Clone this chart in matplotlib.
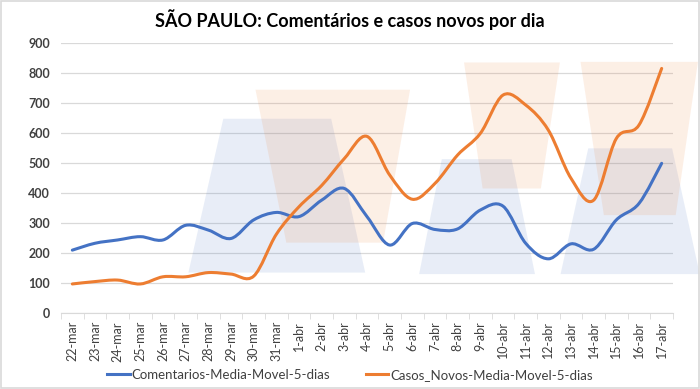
import numpy as np
import matplotlib
matplotlib.use('Agg')
from matplotlib import pyplot as plt
from matplotlib.path import Path
from matplotlib.patches import PathPatch, Polygon, Rectangle
from matplotlib.lines import Line2D

dias = ['22-mar', '23-mar', '24-mar', '25-mar', '26-mar', '27-mar', '28-mar', '29-mar',
        '30-mar', '31-mar', '1-abr', '2-abr', '3-abr', '4-abr', '5-abr', '6-abr', '7-abr',
        '8-abr', '9-abr', '10-abr', '11-abr', '12-abr', '13-abr', '14-abr', '15-abr',
        '16-abr', '17-abr']

comentarios = [209, 232, 243, 254, 243, 292, 276, 248, 310, 335, 321, 376, 415,
               321, 226, 298, 278, 280, 343, 356, 232, 180, 230, 212, 310, 365, 499]

casos = [96, 104, 109, 96, 120, 120, 134, 129, 122, 262, 354, 425, 515,
         589, 460, 379, 432, 527, 599, 727, 694, 610, 449, 376, 582, 627, 816]

azul = '#4472C4'
laranja = '#ED7D31'


def smooth_path(xs, ys):
    # excel style smoothed line -> cubic bezier segments (catmull-rom)
    pts = np.column_stack([xs, ys]).astype(float)
    n = len(pts)
    verts = [pts[0]]
    codes = [Path.MOVETO]
    for i in range(n - 1):
        p0 = pts[i - 1] if i > 0 else pts[i]
        p1 = pts[i]
        p2 = pts[i + 1]
        p3 = pts[i + 2] if i + 2 < n else pts[i + 1]
        c1 = p1 + (p2 - p0) / 6.0
        c2 = p2 - (p3 - p1) / 6.0
        verts += [c1, c2, p2]
        codes += [Path.CURVE4] * 3
    return Path(verts, codes)


fig = plt.figure(figsize=(7, 3.89), dpi=100)
plt.rcParams['font.family'] = ['Lato', 'DejaVu Sans']

ax = fig.add_axes([61 / 700, 1 - 312.7 / 389, 612 / 700, (312.7 - 43.3) / 389])

# background decoration shapes (trapezoids)
formas_azuis = [
    [(5.12, 134), (6.66, 648), (11.42, 648), (12.92, 134)],
    [(15.3, 129), (16.3, 513), (19.38, 513), (20.41, 129)],
    [(21.54, 129), (22.76, 549), (26.46, 549), (27.68, 129)],
]
formas_laranja = [
    [(8.08, 745), (14.9, 745), (13.71, 234), (9.44, 234)],
    [(17.28, 836), (21.51, 836), (20.67, 415), (18.1, 415)],
    [(22.42, 838), (27.6, 838), (26.62, 326), (23.45, 326)],
]
for f in formas_azuis:
    p = Polygon(f, closed=True, facecolor=azul, alpha=0.12, edgecolor='none', zorder=1,
                clip_on=False)
    ax.add_patch(p)
for f in formas_laranja:
    p = Polygon(f, closed=True, facecolor=laranja, alpha=0.12, edgecolor='none', zorder=1,
                clip_on=False)
    ax.add_patch(p)

x = np.arange(len(dias))
ax.add_patch(PathPatch(smooth_path(x, comentarios), facecolor='none', edgecolor=azul,
                       lw=2.2, capstyle='round', zorder=3))
ax.add_patch(PathPatch(smooth_path(x, casos), facecolor='none', edgecolor=laranja,
                       lw=2.2, capstyle='round', zorder=3))

ax.set_xlim(-0.5, len(dias) - 0.5)
ax.set_ylim(0, 900)
ax.set_yticks(range(0, 901, 100))
ax.set_xticks(x)
ax.set_xticklabels(dias, rotation=90, fontsize=9, color='#404040')
ax.set_xticks(np.arange(-0.5, len(dias), 1), minor=True)
ax.tick_params(axis='x', which='major', length=0, pad=6)
ax.tick_params(axis='x', which='minor', length=4, color='#D9D9D9')
ax.tick_params(axis='y', length=0, labelsize=9, labelcolor='#404040', pad=8)
for lab in ax.get_yticklabels():
    lab.set_fontweight('bold')

ax.grid(axis='y', color='#D9D9D9', lw=0.9, zorder=0)
ax.set_axisbelow(True)
for s in ['top', 'right', 'left']:
    ax.spines[s].set_visible(False)
ax.spines['bottom'].set_color('#D9D9D9')
ax.set_facecolor('none')

fig.text(0.5, 1 - 20 / 389, 'SÃO PAULO: Comentários e casos novos por dia', ha='center',
         va='center', fontsize=13, fontweight='bold', color='black')

handles = [Line2D([], [], color=azul, lw=2.2), Line2D([], [], color=laranja, lw=2.2)]
fig.legend(handles, ['Comentarios-Media-Movel-5-dias', 'Casos_Novos-Media-Movel-5-dias'],
           loc='center', bbox_to_anchor=(0.5, 1 - 375 / 389), ncol=2, frameon=False,
           fontsize=9.5, handlelength=1.7, columnspacing=2.7, handletextpad=0.15,
           labelcolor='#404040')

fig.add_artist(Rectangle((0.001, 0.002), 0.997, 0.995, transform=fig.transFigure,
                         fill=False, edgecolor='#D9D9D9', lw=1.2))

fig.savefig('out.png', dpi=100)
